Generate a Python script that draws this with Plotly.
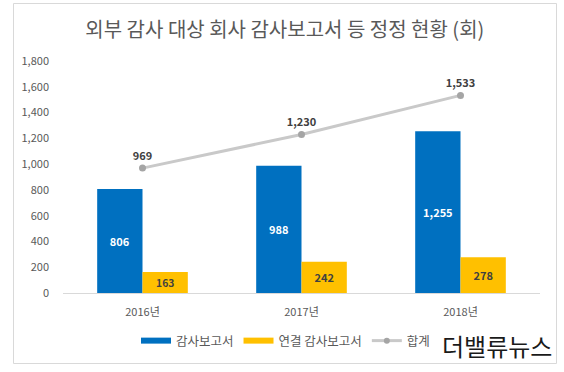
import plotly.graph_objects as go

categories = ["2016년", "2017년", "2018년"]
audit_reports = [806, 988, 1255]
consolidated_reports = [163, 242, 278]
totals = [969, 1230, 1533]
series_names = ["감사보고서", "연결 감사보고서", "합계"]
y_ticks = [0, 200, 400, 600, 800, 1000, 1200, 1400, 1600, 1800]

FONT = "Noto Sans CJK KR"
BLUE = "#0070C0"
YELLOW = "#FFC000"
LINE_GRAY = "#C9C9C9"
MARKER_GRAY = "#A5A5A5"
TEXT_GRAY = "#595959"

fig = go.Figure()

fig.add_trace(go.Bar(
    x=categories, y=audit_reports, name=series_names[0],
    marker=dict(color=BLUE, line=dict(width=0)),
    texttemplate="%{y:,}", textposition="inside", insidetextanchor="middle",
    textfont=dict(family=FONT, size=11, color="white", weight="bold"),
    showlegend=False, cliponaxis=False,
))
fig.add_trace(go.Bar(
    x=categories, y=consolidated_reports, name=series_names[1],
    marker=dict(color=YELLOW, line=dict(width=0)),
    texttemplate="%{y:,}", textposition="inside", insidetextanchor="middle",
    textfont=dict(family=FONT, size=11, color="#404040", weight="bold"),
    showlegend=False, cliponaxis=False,
))
fig.add_trace(go.Scatter(
    x=categories, y=totals, name=series_names[2], mode="lines+markers+text",
    line=dict(color=LINE_GRAY, width=3),
    marker=dict(color=MARKER_GRAY, size=7),
    texttemplate="%{y:,}", textposition="top center",
    textfont=dict(family=FONT, size=11, color="#404040", weight="bold"),
    showlegend=False, cliponaxis=False,
))

# legend entries (wide swatches like the original)
fig.add_trace(go.Scatter(x=[None], y=[None], mode="lines", name=series_names[0],
                         line=dict(color=BLUE, width=6)))
fig.add_trace(go.Scatter(x=[None], y=[None], mode="lines", name=series_names[1],
                         line=dict(color=YELLOW, width=6)))
fig.add_trace(go.Scatter(x=[None], y=[None], mode="lines+markers", name=series_names[2],
                         line=dict(color=LINE_GRAY, width=3),
                         marker=dict(color=MARKER_GRAY, size=6)))

W, H = 564, 372
L, R, T, B = 63, 24, 61, 79
pw, ph = W - L - R, H - T - B

def px_x(x):
    return (x - L) / pw

def px_y(y):
    return (H - B - y) / ph

fig.update_layout(
    width=W, height=H,
    margin=dict(l=L, r=R, t=T, b=B),
    paper_bgcolor="white", plot_bgcolor="white",
    font=dict(family=FONT, size=11, color=TEXT_GRAY),
    barmode="group", bargap=0.43, bargroupgap=0,
    title=dict(text="외부 감사 대상 회사 감사보고서 등 정정 현황 (회)",
               x=0.505, xanchor="center", y=1 - 30 / H, yanchor="middle",
               xref="container", yref="container",
               font=dict(family=FONT, size=20, color=TEXT_GRAY)),
    xaxis=dict(showgrid=False, showline=True, linecolor="#D9D9D9", linewidth=1,
               ticks="", ticklabelstandoff=9,
               tickfont=dict(family=FONT, size=11, color=TEXT_GRAY)),
    yaxis=dict(range=[0, 1800], tickvals=y_ticks, tickformat=",",
               showgrid=False, zeroline=False, showline=False, ticks="",
               ticklabelstandoff=13,
               tickfont=dict(family=FONT, size=11, color=TEXT_GRAY)),
    legend=dict(orientation="h", x=px_x(136), xanchor="left",
                y=px_y(341), yanchor="middle",
                font=dict(family=FONT, size=12.5, color=TEXT_GRAY),
                itemwidth=30, tracegroupgap=0, bgcolor="rgba(0,0,0,0)"),
    shapes=[dict(type="rect", xref="paper", yref="paper",
                 x0=px_x(13.5), x1=px_x(556.5), y0=px_y(363.5), y1=px_y(3.5),
                 line=dict(color="#D9D9D9", width=1), fillcolor="rgba(0,0,0,0)",
                 layer="below")],
    annotations=[dict(text="더밸류뉴스", xref="paper", yref="paper",
                      x=px_x(497), y=px_y(345), xanchor="center", yanchor="middle",
                      showarrow=False,
                      font=dict(family=FONT, size=24, color="#1a1a1a"))],
)

fig.write_html("out.html", config={"displayModeBar": False},
               post_script="document.body.style.margin='0';document.body.style.overflow='hidden';")
